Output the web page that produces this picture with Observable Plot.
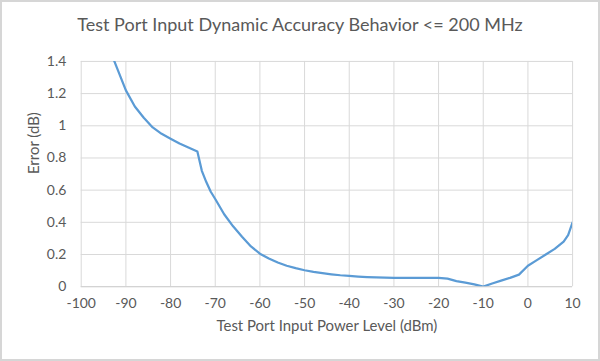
<!DOCTYPE html>
<html>
<head>
<meta charset="utf-8">
<script src="https://cdn.jsdelivr.net/npm/d3@7"></script>
<script src="https://cdn.jsdelivr.net/npm/@observablehq/plot@0.6"></script>
<style>
  html, body { margin: 0; padding: 0; background: #fff; }
  #frame { position: relative; width: 600px; height: 361px; box-sizing: border-box; border: 2px solid #d6d6d6; background: #fff; overflow: hidden; }
  #title { position: absolute; left: 0; top: 0; width: 596px; height: 40px; text-align: center; font-family: Lato, sans-serif; font-size: 18px; color: #595959; line-height: 44px; }
  #chart { position: absolute; left: -2px; top: 38px; }
</style>
</head>
<body>
<div id="frame">
  <div id="title">Test Port Input Dynamic Accuracy Behavior &lt;= 200 MHz</div>
  <div id="chart"></div>
</div>
<script>
const power = [-93,-92,-90,-88,-86,-84,-82,-80,-78,-76,-74,-73,-72,-71,-70,-68,-66,-64,-62,-60,-58,-56,-54,-52,-50,-48,-46,-44,-42,-40,-38,-36,-34,-32,-30,-28,-26,-24,-22,-20,-18,-16,-14,-12,-10,-8,-6,-4,-2,0,2,4,6,8,9,10];
const errorDb = [1.43,1.36,1.22,1.12,1.05,0.99,0.95,0.92,0.89,0.865,0.84,0.72,0.65,0.59,0.545,0.45,0.375,0.31,0.25,0.205,0.175,0.15,0.13,0.115,0.102,0.092,0.084,0.077,0.071,0.067,0.063,0.06,0.058,0.056,0.055,0.055,0.055,0.055,0.055,0.055,0.05,0.035,0.025,0.014,0.0,0.02,0.038,0.055,0.075,0.13,0.165,0.2,0.235,0.28,0.32,0.4];
const xTicks = [-100,-90,-80,-70,-60,-50,-40,-30,-20,-10,0,10];
const xTickLabels = ["-100","-90","-80","-70","-60","-50","-40","-30","-20","-10","0","10"];
const yTicks = [0,0.2,0.4,0.6,0.8,1,1.2,1.4];
const yTickLabels = ["0","0.2","0.4","0.6","0.8","1","1.2","1.4"];
const xLabel = "Test Port Input Power Level (dBm)";
const yLabel = "Error (dB)";

const data = power.map((p, i) => ({p, e: errorDb[i]}));
const textColor = "#595959";

const plot = Plot.plot({
  width: 600,
  height: 323,
  marginTop: 21,
  marginBottom: 76,
  marginLeft: 81,
  marginRight: 26,
  style: {fontFamily: "Lato, sans-serif", fontSize: "14px", color: textColor, background: "transparent"},
  x: {domain: [-100, 10]},
  y: {domain: [0, 1.4]},
  marks: [
    Plot.gridX(xTicks, {stroke: "#d9d9d9", strokeOpacity: 1, strokeWidth: 1}),
    Plot.gridY(yTicks, {stroke: "#d9d9d9", strokeOpacity: 1, strokeWidth: 1}),
    Plot.ruleY([0], {stroke: "#d0d0d0"}),
    Plot.axisX(xTicks, {tickSize: 0, tickPadding: 11, fill: textColor, tickFormat: (d) => xTickLabels[xTicks.indexOf(d)], label: null, fontSize: 14}),
    Plot.axisY(yTicks, {tickSize: 0, tickPadding: 15, fill: textColor, tickFormat: (d) => yTickLabels[yTicks.indexOf(d)], label: null, fontSize: 14}),
    Plot.text([xLabel], {frameAnchor: "bottom", dy: 44, text: (d) => d, fill: textColor, fontSize: 15}),
    Plot.text([yLabel], {frameAnchor: "left", dx: -47, rotate: -90, text: (d) => d, fill: textColor, fontSize: 15}),
    Plot.line(data, {x: "p", y: "e", stroke: "#5b9bd5", strokeWidth: 2.25, curve: "linear", clip: true})
  ]
});
document.getElementById("chart").appendChild(plot);
</script>
</body>
</html>
